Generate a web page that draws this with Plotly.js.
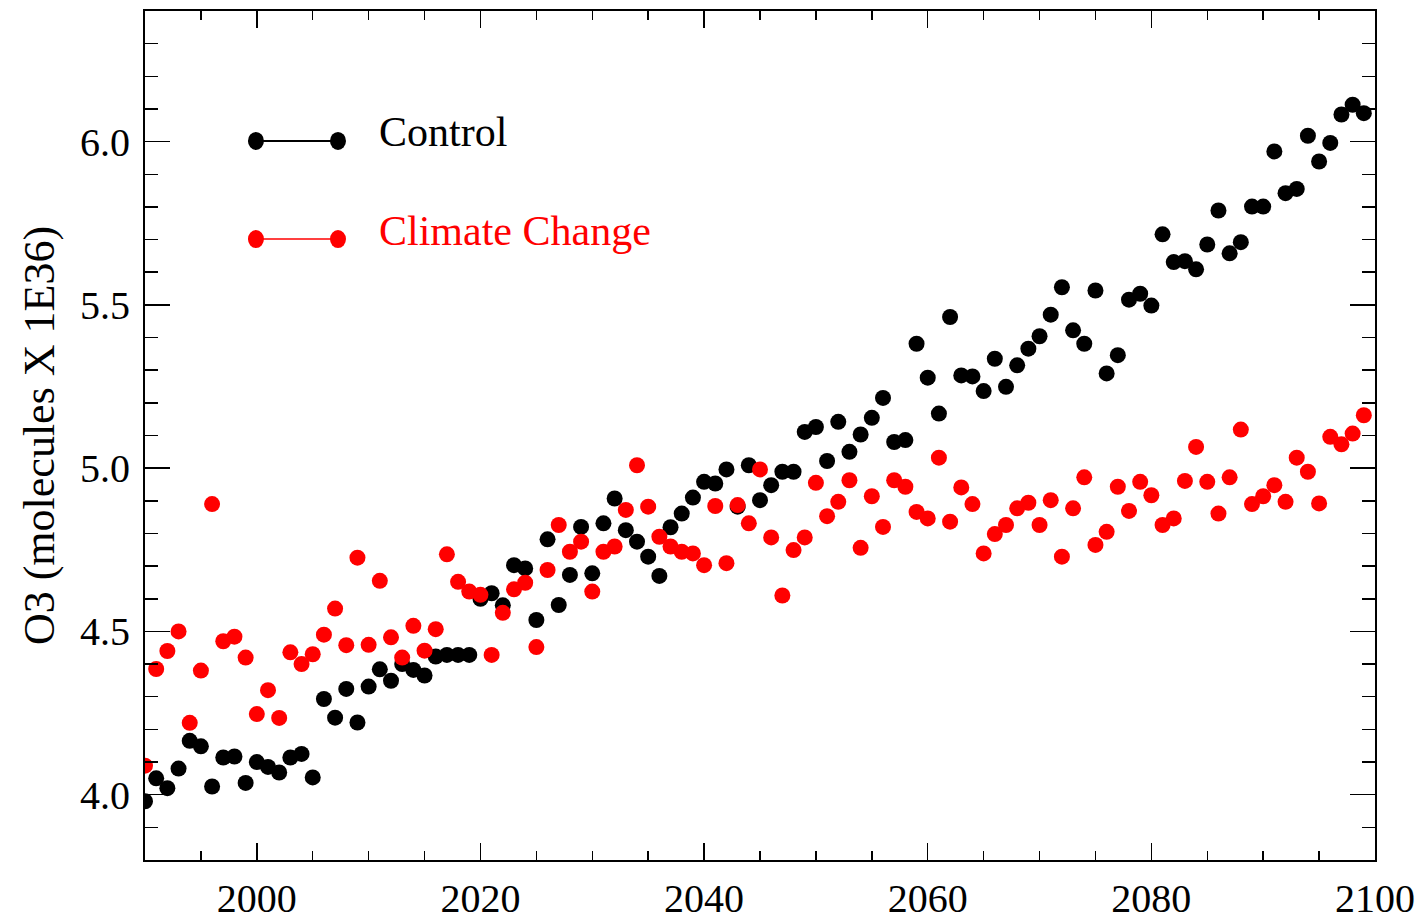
<!DOCTYPE html>
<html>
<head>
<meta charset="utf-8">
<script src="https://cdn.plot.ly/plotly-3.0.1.min.js"></script>
<style>
  html, body { margin: 0; padding: 0; background: #ffffff; }
  #chart { width: 1420px; height: 920px; }
</style>
</head>
<body>
<div id="chart"></div>
<script>
// Annual ozone column, 1990-2099
const firstYear = 1990;
const lastYear = 2099;

const controlO3 = [
  3.98, 4.05, 4.02, 4.08, 4.165, 4.148, 4.025, 4.114, 4.117, 4.036,
  4.10, 4.085, 4.068, 4.114, 4.125, 4.053, 4.293, 4.236, 4.324, 4.221,
  4.331, 4.384, 4.349, 4.40, 4.382, 4.365, 4.423, 4.428, 4.428, 4.428,
  4.60, 4.617, 4.58, 4.703, 4.693, 4.535, 4.782, 4.581, 4.673, 4.82,
  4.678, 4.831, 4.907, 4.81, 4.775, 4.729, 4.67, 4.819, 4.861, 4.91,
  4.958, 4.953, 4.996, 4.882, 5.009, 4.902, 4.948, 4.989, 4.989, 5.111,
  5.126, 5.022, 5.142, 5.05, 5.103, 5.154, 5.215, 5.08, 5.086, 5.381,
  5.277, 5.167, 5.463, 5.284, 5.281, 5.236, 5.335, 5.249, 5.315, 5.366,
  5.404, 5.47, 5.554, 5.422, 5.381, 5.544, 5.29, 5.346, 5.516, 5.534,
  5.498, 5.716, 5.631, 5.634, 5.609, 5.685, 5.789, 5.658, 5.692, 5.801,
  5.801, 5.97, 5.842, 5.855, 6.018, 5.939, 5.996, 6.083, 6.113, 6.087
];

const climateO3 = [
  4.089, 4.385, 4.44, 4.50, 4.22, 4.38, 4.89, 4.47, 4.484, 4.42,
  4.247, 4.32, 4.235, 4.436, 4.40, 4.43, 4.49, 4.57, 4.458, 4.726,
  4.459, 4.655, 4.482, 4.42, 4.517, 4.441, 4.507, 4.736, 4.652, 4.622,
  4.612, 4.428, 4.557, 4.629, 4.649, 4.452, 4.688, 4.826, 4.744, 4.775,
  4.622, 4.744, 4.76, 4.872, 5.009, 4.882, 4.79, 4.76, 4.744, 4.739,
  4.703, 4.884, 4.709, 4.887, 4.831, 4.996, 4.788, 4.61, 4.749, 4.788,
  4.955, 4.853, 4.897, 4.963, 4.756, 4.914, 4.82, 4.963, 4.943, 4.866,
  4.846, 5.032, 4.836, 4.941, 4.89, 4.739, 4.798, 4.826, 4.877, 4.894,
  4.826, 4.902, 4.729, 4.877, 4.972, 4.765, 4.805, 4.943, 4.869, 4.958,
  4.917, 4.826, 4.846, 4.961, 5.065, 4.958, 4.861, 4.972, 5.118, 4.89,
  4.914, 4.948, 4.897, 5.032, 4.989, 4.892, 5.096, 5.073, 5.106, 5.162
];

const seriesNames = ['Control', 'Climate Change'];
const seriesColors = ['#000000', '#ff0000'];
const yTitle = 'O3 (molecules X 1E36)';

const years = [];
for (let y = firstYear; y <= lastYear; y++) years.push(y);

const serif = 'Liberation Serif, Times New Roman, serif';

const traces = [controlO3, climateO3].map((vals, i) => ({
  type: 'scatter',
  mode: 'markers',
  name: seriesNames[i],
  x: years,
  y: vals,
  marker: { color: seriesColors[i], size: 16, line: { width: 0 } },
  showlegend: false,
  hoverinfo: 'x+y'
}));

// Hand-drawn key: marker - line - marker, followed by the label
const keyX0 = 0.0902, keyX1 = 0.1569, keyTextX = 0.1885;
const keyRows = [0.8469, 0.7314];
const keyTextRows = [0.8575, 0.741];
const shapes = [];
const annotations = [];
keyRows.forEach((ky, i) => {
  shapes.push({
    type: 'line', xref: 'paper', yref: 'paper',
    x0: keyX0, x1: keyX1, y0: ky, y1: ky,
    line: { color: seriesColors[i], width: i === 0 ? 2 : 1.5 }
  });
  [keyX0, keyX1].forEach(kx => {
    shapes.push({
      type: 'circle', xref: 'paper', yref: 'paper',
      xsizemode: 'pixel', ysizemode: 'pixel',
      xanchor: kx, yanchor: ky,
      x0: -8, x1: 8, y0: -9, y1: 9,
      fillcolor: seriesColors[i], line: { width: 0 }
    });
  });
  annotations.push({
    xref: 'paper', yref: 'paper', x: keyTextX, y: keyTextRows[i],
    xanchor: 'left', yanchor: 'middle', showarrow: false,
    text: seriesNames[i],
    font: { family: serif, size: 42, color: seriesColors[i] }
  });
});

const layout = {
  width: 1420,
  height: 920,
  margin: { l: 145, r: 45, t: 11, b: 60 },
  paper_bgcolor: '#ffffff',
  plot_bgcolor: '#ffffff',
  showlegend: false,
  xaxis: {
    range: [1990, 2100],
    tick0: 2000, dtick: 20,
    ticks: 'inside', ticklen: 17, tickwidth: 1.5, tickcolor: '#000',
    minor: { dtick: 5, tick0: 1990, ticks: 'inside', ticklen: 9, tickwidth: 1.5, tickcolor: '#000' },
    showline: true, linecolor: '#000', linewidth: 2, mirror: 'ticks',
    showgrid: false, zeroline: false,
    tickfont: { family: serif, size: 40, color: '#000' },
    ticklabelstandoff: 2
  },
  yaxis: {
    range: [3.8, 6.4],
    tick0: 4.0, dtick: 0.5, tickformat: '.1f',
    ticks: 'inside', ticklen: 25, tickwidth: 1.5, tickcolor: '#000',
    minor: { dtick: 0.1, tick0: 3.8, ticks: 'inside', ticklen: 13, tickwidth: 1.5, tickcolor: '#000' },
    showline: true, linecolor: '#000', linewidth: 2, mirror: 'ticks',
    showgrid: false, zeroline: false,
    tickfont: { family: serif, size: 40, color: '#000' },
    ticklabelstandoff: 5,
    title: { text: yTitle, font: { family: serif, size: 44, color: '#000' }, standoff: 12 }
  },
  shapes: shapes,
  annotations: annotations
};

Plotly.newPlot('chart', traces, layout, { displayModeBar: false, staticPlot: true });
</script>
</body>
</html>
